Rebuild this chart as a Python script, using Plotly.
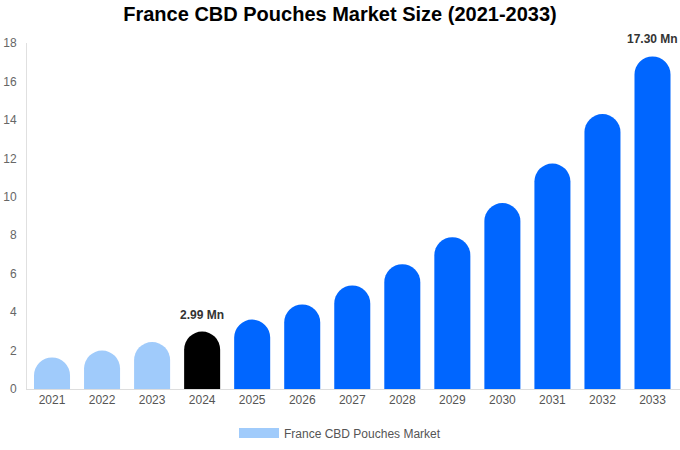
import plotly.graph_objects as go

years = ['2021', '2022', '2023', '2024', '2025', '2026', '2027',
         '2028', '2029', '2030', '2031', '2032', '2033']
market_size = [1.64, 2.00, 2.44, 2.99, 3.61, 4.40, 5.39,
               6.49, 7.90, 9.67, 11.73, 14.30, 17.30]
labelled_years = ['2024', '2033']

light_blue = '#A0CBFB'
blue = '#0066FF'
bar_colors = [light_blue] * 3 + ['#000000'] + [blue] * 9

fig = go.Figure()
fig.add_trace(go.Bar(x=years, y=market_size,
                     marker=dict(color=bar_colors, cornerradius='50%', line_width=0),
                     showlegend=False))
# legend entry only
fig.add_trace(go.Scatter(x=[None], y=[None], mode='lines',
                         name='France CBD Pouches Market',
                         line=dict(color=light_blue, width=11)))

for yr in labelled_years:
    val = market_size[years.index(yr)]
    fig.add_annotation(x=years.index(yr), y=val, text='<b>%.2f Mn</b>' % val,
                       showarrow=False, yanchor='bottom', yshift=8,
                       font=dict(size=12, color='#333333', family='Liberation Sans'))

fig.update_layout(title=dict(text='<b>France CBD Pouches Market Size (2021-2033)</b>',
                             x=0.5, xanchor='center', y=0.985, yanchor='top',
                             font=dict(size=20, color='#000000', family='Liberation Sans')),
                  width=680, height=450,
                  margin=dict(l=27, r=0, t=43, b=61, autoexpand=False),
                  plot_bgcolor='white', paper_bgcolor='white',
                  bargap=0.28,
                  font=dict(family='Liberation Sans', color='#555555', size=12),
                  legend=dict(orientation='h', xref='container', x=0.5, xanchor='center',
                              y=-0.085, yanchor='top', itemwidth=40,
                              font=dict(size=12, color='#555555')))

fig.update_xaxes(type='category', categoryorder='array', categoryarray=years,
                 showgrid=False, showline=True, linecolor='#dddddd', linewidth=1,
                 ticks='', automargin=False, tickfont=dict(size=12, color='#555555'))
fig.update_yaxes(range=[0, 18], dtick=2, showgrid=False, zeroline=False,
                 showline=True, linecolor='#e0e0e0', linewidth=1,
                 automargin=False, ticklabelstandoff=7,
                 tickfont=dict(size=12, color='#666666'))

fig.write_html("out.html", config={'displayModeBar': False},
               post_script="document.body.style.margin = '0';")
